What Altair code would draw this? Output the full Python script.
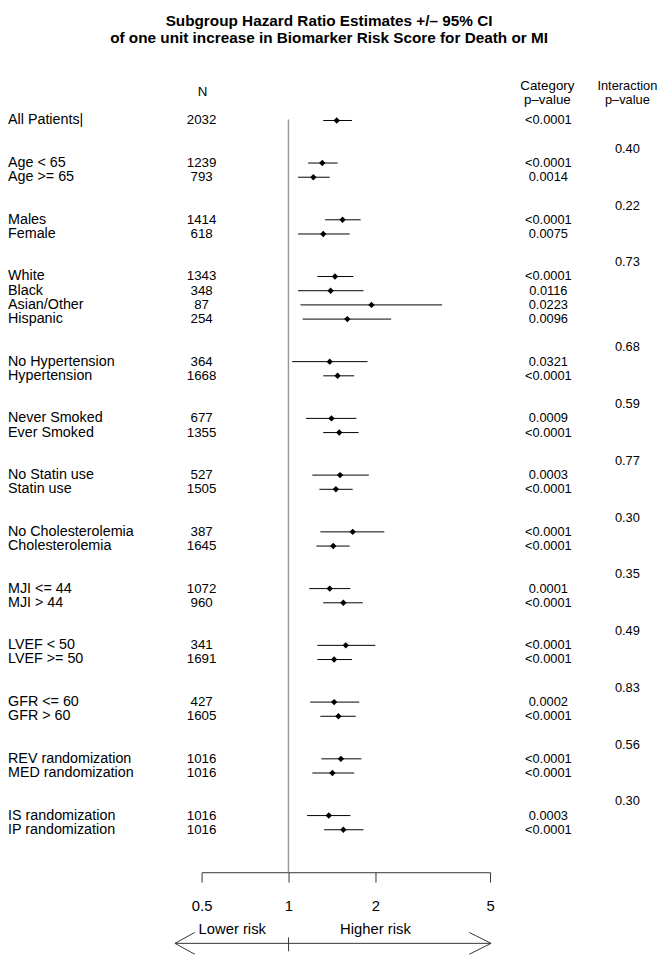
import altair as alt
import pandas as pd

# ---------------- data ----------------
groups = [
    ["All Patients|"],
    ["Age < 65", "Age >= 65"],
    ["Males", "Female"],
    ["White", "Black", "Asian/Other", "Hispanic"],
    ["No Hypertension", "Hypertension"],
    ["Never Smoked", "Ever Smoked"],
    ["No Statin use", "Statin use"],
    ["No Cholesterolemia", "Cholesterolemia"],
    ["MJI <= 44", "MJI > 44"],
    ["LVEF < 50", "LVEF >= 50"],
    ["GFR <= 60", "GFR > 60"],
    ["REV randomization", "MED randomization"],
    ["IS randomization", "IP randomization"],
]
n_values = [2032, 1239, 793, 1414, 618, 1343, 348, 87, 254, 364, 1668, 677, 1355,
            527, 1505, 387, 1645, 1072, 960, 341, 1691, 427, 1605, 1016, 1016, 1016, 1016]
hr = [1.47, 1.31, 1.22, 1.54, 1.32, 1.45, 1.40, 1.94, 1.60, 1.39, 1.48, 1.41, 1.50,
      1.51, 1.46, 1.67, 1.43, 1.39, 1.55, 1.58, 1.44, 1.44, 1.49, 1.52, 1.42, 1.38, 1.55]
lo = [1.32, 1.17, 1.08, 1.34, 1.08, 1.26, 1.08, 1.10, 1.12, 1.03, 1.32, 1.15, 1.32,
      1.21, 1.28, 1.29, 1.25, 1.18, 1.32, 1.26, 1.26, 1.19, 1.29, 1.30, 1.21, 1.16, 1.33]
hi = [1.66, 1.48, 1.39, 1.78, 1.63, 1.68, 1.82, 3.41, 2.27, 1.88, 1.69, 1.72, 1.75,
      1.90, 1.67, 2.15, 1.63, 1.64, 1.81, 2.00, 1.66, 1.76, 1.71, 1.79, 1.69, 1.64, 1.82]
cat_p = ["<0.0001", "<0.0001", "0.0014", "<0.0001", "0.0075", "<0.0001", "0.0116",
         "0.0223", "0.0096", "0.0321", "<0.0001", "0.0009", "<0.0001", "0.0003",
         "<0.0001", "<0.0001", "<0.0001", "0.0001", "<0.0001", "<0.0001", "<0.0001",
         "0.0002", "<0.0001", "<0.0001", "<0.0001", "0.0003", "<0.0001"]
inter_p = ["0.40", "0.22", "0.73", "0.68", "0.59", "0.77", "0.30", "0.35", "0.49",
           "0.83", "0.56", "0.30"]
axis_ticks = [0.5, 1, 2, 5]

title_lines = ["Subgroup Hazard Ratio Estimates +/\u2013 95% CI",
               "of one unit increase in Biomarker Risk Score for Death or MI"]

# ---------------- tables ----------------
labels, rows, inter_rows = [], [], []
k = 0
for gi, g in enumerate(groups):
    if gi > 0:
        k += 2
        inter_rows.append(k - 1)
    for lab in g:
        labels.append(lab)
        rows.append(k)
        k += 1

df = pd.DataFrame({"label": labels, "k": rows, "n": [str(v) for v in n_values],
                   "hr": hr, "lo": lo, "hi": hi, "p": cat_p})
df_int = pd.DataFrame({"k": inter_rows, "p": inter_p})
df_ref = pd.DataFrame({"ref": [1.0]})

FONT = "Liberation Sans"
W, H = 658, 869

xscale = alt.Scale(type="log", domain=[0.5, 5], range=[196, 488])
yscale = alt.Scale(domain=[0, 50], range=[108, 826])
xaxis = alt.Axis(values=axis_ticks, format="~g", title=None, grid=False,
                 domainColor="#333333", tickColor="#333333", tickSize=10,
                 labelFontSize=15, labelPadding=17, labelColor="black",
                 labelFont=FONT, domainWidth=1, tickWidth=1, labelFlush=False)

ref = alt.Chart(df_ref).mark_rule(color="#999999", strokeWidth=1.5).encode(
    x=alt.X("ref:Q", scale=xscale, axis=xaxis),
    y=alt.value(107), y2=alt.value(H))

ci = alt.Chart(df).mark_rule(color="black", strokeWidth=1).encode(
    x=alt.X("lo:Q", scale=xscale, axis=xaxis), x2="hi:Q",
    y=alt.Y("k:Q", scale=yscale, axis=None))

pts = alt.Chart(df).mark_point(shape="diamond", filled=True, size=42,
                               color="black", opacity=1).encode(
    x=alt.X("hr:Q", scale=xscale, axis=xaxis),
    y=alt.Y("k:Q", scale=yscale, axis=None))


def col_text(data, field, xpx, align, size):
    return alt.Chart(data).mark_text(align=align, baseline="middle", font=FONT,
                                     fontSize=size, color="black").encode(
        x=alt.value(xpx), y=alt.Y("k:Q", scale=yscale, axis=None),
        text=f"{field}:N")


lab_t = col_text(df, "label", 0, "left", 14.5)
n_t = col_text(df, "n", 196, "center", 13.5)
p_t = col_text(df, "p", 547, "center", 13)
i_t = col_text(df_int, "p", 627, "center", 13)

one = pd.DataFrame({"a": [0]})


def fixed_text(txt, xpx, ypx, size, weight="normal", align="center"):
    return alt.Chart(one).mark_text(align=align, baseline="middle", font=FONT,
                                    fontSize=size, fontWeight=weight,
                                    color="black").encode(
        x=alt.value(xpx), y=alt.value(ypx), text=alt.value(txt))


heads = [
    fixed_text(title_lines[0], 325, 7, 15.5, "bold"),
    fixed_text(title_lines[1], 325, 25, 15.5, "bold"),
    fixed_text("N", 197, 79, 13.5),
    fixed_text("Category", 546, 73, 13.5),
    fixed_text("p\u2013value", 546, 87, 13.5),
    fixed_text("Interaction", 627, 73, 13),
    fixed_text("p\u2013value", 627, 87, 13),
    fixed_text("Lower risk", 227, 927, 15),
    fixed_text("Higher risk", 372, 927, 15),
]

# arrow decoration (pixel segments)
seg = pd.DataFrame({
    "x": [169, 169, 169, 489, 489, 284],
    "y": [941, 941, 941, 941, 941, 935],
    "x2": [489, 189, 189, 467, 467, 284],
    "y2": [941, 930, 952, 930, 952, 949],
})
arrows = alt.Chart(seg).mark_rule(color="#333333", strokeWidth=1).encode(
    x=alt.X("x:Q", scale=None), y=alt.Y("y:Q", scale=None),
    x2="x2:Q", y2="y2:Q")

chart = alt.layer(ref, ci, pts, lab_t, n_t, p_t, i_t, arrows, *heads).properties(
    width=W, height=H,
    padding={"left": 0, "top": 0, "right": 0, "bottom": 85},
    autosize=alt.AutoSizeParams(type="none"),
).configure_view(strokeWidth=0)

chart.save("out.html", embed_options={"renderer": "svg", "actions": False})
